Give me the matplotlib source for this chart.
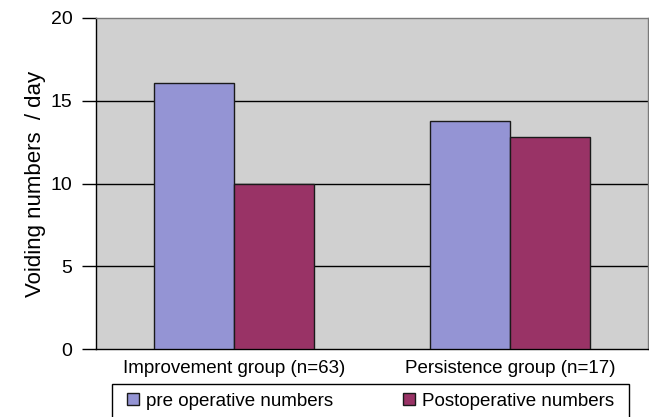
import matplotlib
matplotlib.use("Agg")
import matplotlib.pyplot as plt
from matplotlib.patches import Rectangle
import numpy as np

plt.rcParams['font.family'] = ['Liberation Sans', 'DejaVu Sans']

groups = ["Improvement group (n=63)", "Persistence group (n=17)"]
series_names = ["pre operative numbers", "Postoperative numbers"]
pre_op = [16.1, 13.8]
post_op = [10.0, 12.8]
y_ticks = [0, 5, 10, 15, 20]

colors = ["#9494D4", "#993366"]

fig = plt.figure(figsize=(6.49, 4.17), dpi=100)
W, H = 649, 417
ax = fig.add_axes([96 / W, 1 - 349 / H, (648 - 96) / W, (349 - 18) / H])
ax.set_facecolor("#D0D0D0")

x = np.arange(len(groups))
width = 0.29
bars = []
for i, (vals, c, name) in enumerate(zip([pre_op, post_op], colors, series_names)):
    offs = (i - 0.5) * width
    b = ax.bar(x + offs, vals, width, color=c, edgecolor="#1a1a1a",
               linewidth=1.0, label=name, zorder=3)
    bars.append(b)

ax.set_xlim(-0.5, 1.5)
ax.set_ylim(0, 20)
ax.set_yticks(y_ticks)
ax.set_yticklabels([str(v) for v in y_ticks], fontsize=14)
ax.set_xticks(x)
ax.set_xticklabels(groups, fontsize=13.5)
ax.tick_params(axis="x", length=0, pad=8)
ax.tick_params(axis="y", length=10, width=1, pad=7, direction="out")
for v in y_ticks[1:-1]:
    ax.axhline(v, color="black", linewidth=1.0, zorder=1)

for side in ["left", "bottom"]:
    ax.spines[side].set_color("black")
    ax.spines[side].set_linewidth(1.0)
for side in ["top", "right"]:
    ax.spines[side].set_color("#7a7a7a")
    ax.spines[side].set_linewidth(1.0)

ax.set_ylabel("Voiding numbers  / day", fontsize=16, labelpad=3)

# legend entries without frame; the box is drawn separately and runs off the bottom edge
fs = 13.5
em = fs * 100 / 72
leg = fig.legend(handles=bars, labels=series_names, ncol=2,
                 loc="center left", bbox_to_anchor=(127 / W, 1 - 401 / H),
                 fontsize=fs, frameon=False,
                 handlelength=12 / em, handleheight=12 / em,
                 handletextpad=7.5 / em, columnspacing=69 / em,
                 borderpad=0, borderaxespad=0)
for h in leg.legend_handles:
    h.set_edgecolor("#1a1a1a")
    h.set_linewidth(1.0)

fig.patches.append(Rectangle((111.7 / W, -0.05), (629 - 111.7) / W, 0.05 + 1 - 384 / H,
                             transform=fig.transFigure, facecolor="white",
                             edgecolor="black", linewidth=1.0, zorder=0))

fig.savefig("out.png", dpi=100)
